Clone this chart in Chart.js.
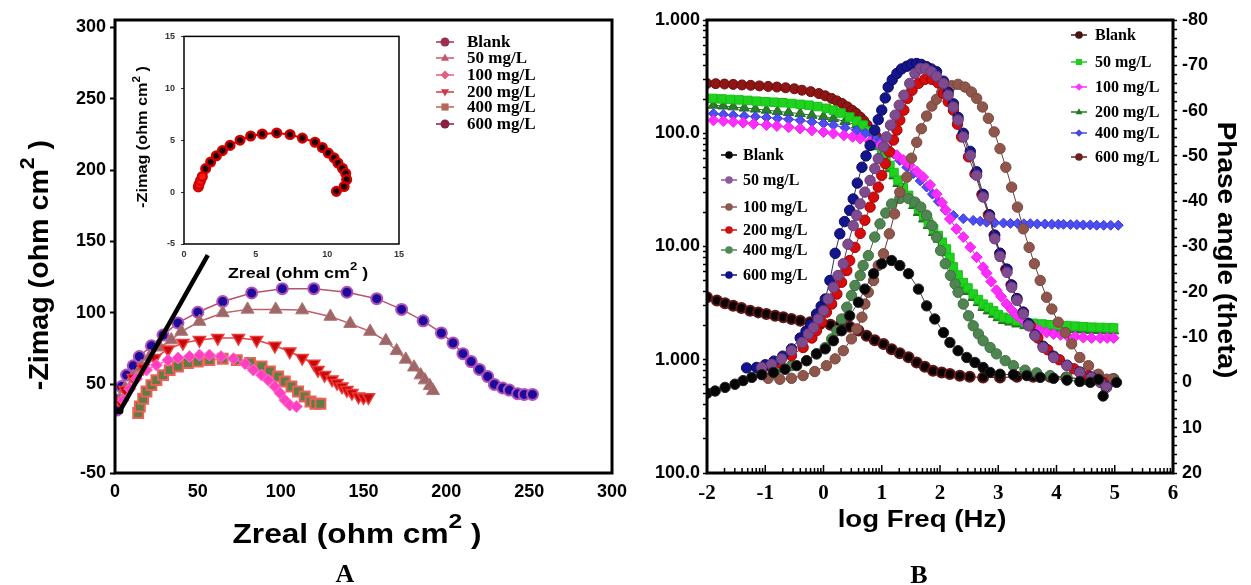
<!DOCTYPE html>
<html>
<head>
<meta charset="utf-8">
<script src="https://cdn.jsdelivr.net/npm/chart.js@4.4.1/dist/chart.umd.min.js"></script>
<style>
html, body { margin: 0; padding: 0; background: #fff; }
#wrap { position: relative; width: 1251px; height: 585px; overflow: hidden; }
canvas { position: absolute; }
#cA { left: 0; top: 0; }
#cIn { left: 120px; top: 25px; }
#cB { left: 640px; top: 0; }
</style>
</head>
<body>
<div id="wrap">
  <canvas id="cA" width="640" height="585"></canvas>
  <canvas id="cIn" width="290" height="265"></canvas>
  <canvas id="cB" width="611" height="585"></canvas>
</div>
<script>
const SANS = 'Arial, "Liberation Sans", sans-serif';
const SERIF = '"Times New Roman", "Liberation Serif", serif';

// ---- panel A : Nyquist (Zreal, -Zimag) ----
const nyqXTicks = [0, 50, 100, 150, 200, 250, 300];
const nyqYTickVals = [-12, 50, 100, 150, 200, 250, 300];
const nyqYTickLabels = ['-50', '50', '100', '150', '200', '250', '300'];
const concLabels = ['Blank', '50 mg/L', '100 mg/L', '200 mg/L', '400 mg/L', '600 mg/L'];

const nyq600 = [[1,32],[2,39],[4,48.5],[7,56.5],[11,63],[14.7,69.5],[22,77],[29,84.5],[38,93],[50,100.5],[65,108],[82.5,114],[101,117],[120,117],[140,114.5],[158,110],[173,102.5],[186,94.5],[197,86],[204,79],[210,71.5],[215,66],[220,60.5],[225,55.5],[229,50],[234,47.5],[238,46],[243,43.5],[247,43],[252,43]];
const nyq50 = [[3,39],[6,47],[11,55.5],[16,62.5],[21,69.5],[27,76],[34,81],[40,87],[51,94],[65,100],[80,102.5],[97,102.5],[113,102],[130,97.5],[142,92.5],[154,87],[163.5,80.5],[170,73.5],[175.5,67.5],[180.5,62],[184.5,56.5],[187,53],[190,49],[192,45.5]];
const nyq200 = [[3,38],[6,46],[11,54.5],[17,61.5],[24,68.5],[32,74.5],[41,79],[51,81],[62,82.5],[74.5,82.5],[85.5,81],[96.5,77],[105.5,73],[113,68.5],[120,64.5],[122.5,60],[126.5,56.5],[131,53.5],[134,51],[137,48.5],[140,46],[143,44],[147,41.5],[150,41],[153,41]];
const nyq100 = [[5,39],[9,47],[13,54],[19,60],[25,63.5],[32,67],[38,68.5],[45,69.5],[51,70.5],[57,70.5],[64,69.5],[71.5,68],[78.5,64.5],[83.5,60],[88.5,56.5],[92.5,53],[96.5,48.5],[99.5,44],[102.5,39],[105.5,35.5],[109.5,34.5]];
const nyq400 = [[14,30],[15,34.5],[17,40],[19,45],[22,49.5],[25,53],[29,56.5],[33,60],[38,62.5],[44,65],[50,66],[57,67],[65,68],[73.5,67],[81.5,65],[88.5,62.5],[93.5,59],[98.5,55.5],[102.5,52],[106.5,48.5],[110.5,45],[114.5,41.5],[118,38],[121,36.5],[124,36.5]];
const fitLine = [[3,31.5],[56,140.5]];

// inset (Blank)
const insetXTicks = [0, 5, 10, 15];
const insetYTicks = [-5, 0, 5, 10, 15];
const nyqBlank = [[1.0,0.5],[1.05,0.75],[1.15,1.1],[1.28,1.5],[1.51,2.26],[1.86,2.9],[2.26,3.5],[2.68,4.0],[3.21,4.5],[3.91,5.0],[4.65,5.4],[5.46,5.6],[6.47,5.7],[7.40,5.55],[8.26,5.2],[9.14,4.8],[9.65,4.3],[10.07,3.76],[10.47,3.3],[10.74,2.8],[11.05,2.3],[11.28,1.8],[11.35,1.2],[11.17,0.54],[10.63,0.07]];

// ---- panel B : Bode (log f, |Z| and phase) ----
const freqTicks = [-2, -1, 0, 1, 2, 3, 4, 5, 6];
const magTickVals = [0.1, 1, 10, 100, 1000];
const magTickLabels = ['100.0', '1.000', '10.00', '100.0', '1.000'];
const phaseTickVals = [-80, -70, -60, -50, -40, -30, -20, -10, 0, 10, 20];

const phaseBlank = [[-2.0,2.4],[-1.86,1.9],[-1.69,1.1],[-1.52,0.4],[-1.38,-0.4],[-1.23,-1.1],[-1.06,-1.7],[-0.86,-2.2],[-0.66,-2.9],[-0.46,-3.7],[-0.29,-4.8],[-0.12,-6.3],[0.03,-7.4],[0.17,-9.2],[0.31,-11.4],[0.45,-14.7],[0.60,-17.7],[0.71,-20.6],[0.86,-24.0],[1.0,-26.2],[1.17,-26.9],[1.31,-25.8],[1.46,-24.0],[1.63,-20.6],[1.77,-16.9],[1.91,-14.0],[2.06,-11.0],[2.17,-8.8],[2.31,-7.0],[2.46,-5.5],[2.60,-4.4],[2.74,-3.3],[2.86,-2.2],[3.03,-1.8],[3.26,-1.7],[3.49,-1.5],[3.72,-1.1],[3.95,-0.9],[4.18,-0.5],[4.40,-0.2],[4.58,0],[4.72,-0.7],[4.80,3.0],[5.03,0]];
const phase50 = [[-1.06,-3.3],[-0.89,-4.0],[-0.72,-5.2],[-0.55,-7.0],[-0.37,-8.8],[-0.26,-10.7],[-0.17,-12.1],[-0.09,-14.0],[0.0,-15.8],[0.08,-18.4],[0.17,-21.0],[0.25,-23.6],[0.34,-26.2],[0.42,-30.5],[0.51,-34.6],[0.57,-36.9],[0.63,-39.4],[0.71,-42.0],[0.80,-44.6],[0.88,-47.2],[0.94,-49.4],[1.03,-52.0],[1.08,-54.2],[1.15,-56.8],[1.23,-59.0],[1.30,-61.2],[1.38,-63.4],[1.48,-66.0],[1.57,-68.2],[1.66,-69.3],[1.75,-69.3],[1.85,-68.6],[1.94,-67.6],[2.06,-66.0],[2.14,-63.4],[2.23,-60.8],[2.31,-57.9],[2.40,-54.2],[2.52,-50.1],[2.63,-45.7],[2.74,-40.9],[2.85,-36.5],[2.94,-31.7],[3.03,-27.8],[3.15,-24.3],[3.23,-21.0],[3.32,-18.1],[3.43,-15.1],[3.52,-12.5],[3.63,-10.3],[3.77,-7.7],[3.95,-5.5],[4.18,-3.7],[4.40,-2.2],[4.60,-1.1],[4.75,0.0],[4.86,1.1]];
const phase100 = [[-0.95,-0.9],[-0.75,-0.7],[-0.55,-0.9],[-0.35,-1.5],[-0.15,-2.4],[0.05,-3.7],[0.20,-5.2],[0.34,-7.0],[0.48,-9.6],[0.57,-11.8],[0.66,-14.4],[0.71,-17.3],[0.77,-19.9],[0.86,-22.5],[0.94,-25.8],[1.03,-28.4],[1.13,-32.8],[1.22,-37.2],[1.31,-42.0],[1.43,-45.3],[1.51,-49.5],[1.60,-53.0],[1.68,-56.0],[1.77,-58.8],[1.86,-61.0],[1.94,-62.5],[2.03,-64.0],[2.12,-65.0],[2.20,-65.5],[2.31,-65.8],[2.43,-65.2],[2.54,-64.1],[2.63,-62.7],[2.73,-60.8],[2.83,-58.3],[2.93,-55.3],[3.03,-51.6],[3.13,-47.5],[3.23,-43.1],[3.33,-38.7],[3.43,-33.9],[3.53,-29.8],[3.62,-26.2],[3.72,-22.5],[3.83,-18.8],[3.92,-16.2],[4.03,-13.3],[4.15,-11.0],[4.26,-8.5],[4.40,-5.5],[4.55,-3.7],[4.72,-1.8],[4.86,-0.7],[4.95,-0.7]];
const phase200 = [[-0.97,-3.7],[-0.75,-4.4],[-0.55,-5.9],[-0.35,-7.7],[-0.20,-9.8],[-0.12,-11.4],[-0.03,-13.3],[0.05,-15.5],[0.14,-17.3],[0.23,-19.5],[0.31,-22.1],[0.40,-24.7],[0.45,-26.9],[0.54,-29.8],[0.63,-32.9],[0.71,-35.8],[0.80,-38.7],[0.86,-40.9],[0.94,-43.1],[1.0,-45.7],[1.06,-48.3],[1.13,-50.9],[1.20,-53.5],[1.26,-55.7],[1.31,-57.9],[1.38,-60.1],[1.44,-62.7],[1.52,-64.5],[1.63,-66.0],[1.74,-66.9],[1.86,-66.9],[1.97,-66.1],[2.06,-63.8],[2.14,-62.0],[2.23,-60.1],[2.30,-57.0],[2.37,-54.2],[2.49,-49.8],[2.60,-46.0],[2.72,-41.5],[2.83,-37.0],[2.93,-32.5],[3.03,-28.5],[3.13,-25.0],[3.22,-21.5],[3.32,-18.5],[3.43,-15.5],[3.55,-12.5],[3.68,-9.8],[3.85,-7.2],[4.05,-5.0],[4.30,-3.0],[4.55,-1.5],[4.80,0.0]];
const phase400 = [[-1.06,-2.6],[-0.80,-2.9],[-0.55,-3.7],[-0.29,-4.8],[-0.12,-6.3],[0.03,-7.7],[0.14,-9.6],[0.23,-11.4],[0.31,-14.0],[0.40,-16.6],[0.48,-19.2],[0.54,-21.4],[0.63,-23.6],[0.68,-25.8],[0.77,-28.0],[0.88,-32.1],[0.97,-35.0],[1.07,-37.4],[1.17,-39.4],[1.31,-40.6],[1.46,-40.6],[1.57,-39.8],[1.67,-38.7],[1.77,-36.9],[1.86,-34.6],[1.94,-32.1],[2.01,-29.1],[2.09,-26.2],[2.18,-23.6],[2.26,-21.7],[2.31,-19.9],[2.40,-17.3],[2.49,-14.7],[2.57,-12.5],[2.66,-10.7],[2.74,-9.2],[2.86,-7.7],[2.97,-6.3],[3.12,-4.8],[3.26,-3.7],[3.46,-2.7],[3.66,-2.1],[3.89,-1.5],[4.18,-1.1],[4.46,-0.7],[4.75,-0.5],[4.98,-0.7]];
const phase600 = [[-1.32,-3.2],[-1.15,-3.3],[-1.0,-3.9],[-0.85,-4.7],[-0.7,-5.8],[-0.55,-7.4],[-0.4,-9.8],[-0.3,-11.3],[-0.22,-12.8],[-0.12,-15.1],[-0.04,-16.8],[0.03,-18.4],[0.11,-22.5],[0.2,-28.5],[0.28,-32.8],[0.36,-35.5],[0.45,-38],[0.51,-40.5],[0.58,-44],[0.66,-47.5],[0.73,-50],[0.8,-52.3],[0.88,-55.7],[0.94,-58],[1.0,-60.1],[1.06,-62.8],[1.11,-65.2],[1.18,-66.8],[1.26,-68.2],[1.34,-69.2],[1.43,-69.8],[1.51,-70.3],[1.6,-70.4],[1.68,-70.2],[1.77,-69.7],[1.85,-69.2],[1.94,-68.6],[2.06,-66.5],[2.14,-64],[2.23,-61.5],[2.31,-58.5],[2.4,-55],[2.52,-51],[2.63,-46.5],[2.74,-41.5],[2.85,-37],[2.94,-32.5],[3.03,-28.5],[3.15,-25],[3.23,-21.5],[3.32,-18.5],[3.43,-15.5],[3.52,-13],[3.63,-10.5],[3.77,-8],[3.95,-5.8],[4.18,-3.8],[4.4,-2.3],[4.6,-1.2],[4.75,-0.2],[4.86,1]];

const magBlank = [[-2.0,3.56],[-1.83,3.33],[-1.69,3.15],[-1.55,3.0],[-1.41,2.87],[-1.26,2.71],[-1.12,2.62],[-0.98,2.54],[-0.83,2.45],[-0.69,2.37],[-0.55,2.29],[-0.40,2.21],[-0.23,2.14],[-0.06,2.07],[0.12,2.04],[0.28,2.0],[0.45,1.96],[0.60,1.81],[0.74,1.63],[0.88,1.49],[1.03,1.38],[1.17,1.24],[1.31,1.14],[1.46,1.05],[1.60,0.946],[1.74,0.867],[1.88,0.80],[2.03,0.773],[2.17,0.747],[2.34,0.722],[2.51,0.707],[2.74,0.697],[3.03,0.697],[3.32,0.707],[3.60,0.707],[3.89,0.707],[4.17,0.697],[4.46,0.675],[4.75,0.675],[4.98,0.675]];
const mag50 = [[-1.9,203],[-1.75,201],[-1.6,199],[-1.45,197],[-1.3,195],[-1.15,192],[-1.0,190],[-0.85,188],[-0.7,186],[-0.55,183],[-0.4,180],[-0.25,177],[-0.1,172],[0.05,166],[0.17,160],[0.3,151],[0.45,139],[0.57,128],[0.68,118],[0.77,105],[0.86,93],[0.93,81],[1.0,71],[1.07,61],[1.14,52],[1.21,45],[1.28,38.5],[1.37,33],[1.46,28.3],[1.55,24.5],[1.63,21.5],[1.72,18.8],[1.8,16.4],[1.89,14.3],[1.97,12.5],[2.04,10.9],[2.11,9.5],[2.17,8],[2.23,6.6],[2.31,5.6],[2.4,4.8],[2.48,4.3],[2.57,3.8],[2.66,3.4],[2.74,3.1],[2.83,2.9],[2.92,2.7],[3.0,2.5],[3.09,2.37],[3.2,2.3],[3.32,2.21],[3.46,2.15],[3.6,2.1],[3.75,2.07],[3.89,2.04],[4.03,2.02],[4.17,2.0],[4.32,1.98],[4.46,1.96],[4.6,1.94],[4.75,1.93],[4.87,1.92],[4.98,1.91]];
const mag100 = [[-1.89,130],[-1.72,128],[-1.55,126],[-1.38,124],[-1.2,121],[-0.98,118],[-0.8,116],[-0.6,113],[-0.4,110],[-0.2,106],[0.0,102.5],[0.17,99.4],[0.35,96],[0.5,93],[0.63,89.7],[0.8,84.5],[0.97,78.3],[1.1,71.5],[1.26,63.9],[1.37,58],[1.48,52.1],[1.6,46],[1.71,41],[1.83,35],[1.94,29],[2.03,24.5],[2.1,21],[2.17,17.5],[2.28,14.3],[2.4,12.1],[2.52,9.86],[2.63,8.04],[2.74,6.56],[2.8,5.8],[2.88,4.9],[2.97,4.1],[3.05,3.6],[3.14,3.11],[3.23,2.75],[3.32,2.45],[3.42,2.25],[3.52,2.07],[3.62,1.93],[3.72,1.81],[3.83,1.74],[3.95,1.69],[4.07,1.66],[4.18,1.63],[4.32,1.6],[4.46,1.57],[4.6,1.56],[4.75,1.56],[4.87,1.56],[4.98,1.56]];
const mag200 = [[-1.89,177],[-1.72,174],[-1.55,171],[-1.36,167],[-1.17,163.5],[-0.98,160],[-0.79,156],[-0.6,152.5],[-0.4,149],[-0.2,144],[0.0,140],[0.17,135],[0.37,127],[0.57,118],[0.72,104],[0.86,87],[0.93,76],[1.0,66],[1.07,57],[1.14,48.5],[1.21,42],[1.28,36],[1.37,31],[1.46,26.5],[1.55,23],[1.63,20],[1.72,17.5],[1.8,15.3],[1.89,13.3],[1.97,11.6],[2.04,10.1],[2.11,8.8],[2.17,7.4],[2.23,6.2],[2.31,5.2],[2.4,4.5],[2.48,4.0],[2.57,3.55],[2.66,3.2],[2.74,2.9],[2.83,2.7],[2.92,2.52],[3.0,2.35],[3.09,2.22],[3.2,2.15],[3.32,2.07],[3.46,2.0],[3.6,1.96],[3.75,1.93],[3.89,1.9],[4.03,1.88],[4.17,1.86],[4.32,1.85],[4.46,1.83],[4.6,1.82],[4.75,1.81],[4.87,1.8],[4.98,1.8]];
const mag400 = [[-1.89,149],[-1.72,146.5],[-1.55,144],[-1.36,142],[-1.17,140],[-0.98,138],[-0.79,135.5],[-0.6,133],[-0.4,130],[-0.2,126],[0.0,122],[0.17,118],[0.37,112],[0.57,106],[0.72,100],[0.86,92.7],[0.97,84],[1.08,75.7],[1.2,66],[1.31,57.6],[1.43,50],[1.54,44],[1.66,38],[1.77,33.5],[1.87,29],[1.97,25],[2.09,21],[2.23,18.8],[2.4,17.6],[2.57,17.0],[2.69,16.7],[2.8,16.4],[2.94,16.2],[3.09,16.1],[3.21,16.0],[3.33,16.0],[3.44,15.9],[3.55,15.9],[3.67,15.8],[3.8,15.8],[3.92,15.7],[4.03,15.7],[4.12,15.7],[4.24,15.6],[4.35,15.6],[4.46,15.5],[4.58,15.5],[4.69,15.4],[4.81,15.4],[4.93,15.4],[5.06,15.4]];
const mag600 = [[-2.0,275],[-1.85,274],[-1.7,272],[-1.55,270],[-1.4,267],[-1.25,265],[-1.1,262],[-0.95,259],[-0.8,256],[-0.65,252],[-0.5,247],[-0.37,240],[-0.22,233],[-0.08,224],[0.03,214],[0.14,203],[0.23,193],[0.32,183],[0.41,171],[0.49,160],[0.56,150],[0.63,139],[0.69,129],[0.75,118],[0.82,106],[0.9,95]];

// ---- helpers ----
function pts(arr) { return arr.map(p => ({ x: p[0], y: p[1] })); }

function ds(label, arr, o) {
  return Object.assign({ label: label, data: pts(arr), showLine: true, pointHoverRadius: 0 }, o);
}

function drawMarker(ctx, style, x, y, r, fill) {
  ctx.beginPath();
  if (style === 'circle') ctx.arc(x, y, r, 0, Math.PI * 2);
  else if (style === 'rect') ctx.rect(x - r * 0.8, y - r * 0.8, r * 1.6, r * 1.6);
  else if (style === 'rectRot') { ctx.moveTo(x, y - r); ctx.lineTo(x + r, y); ctx.lineTo(x, y + r); ctx.lineTo(x - r, y); ctx.closePath(); }
  else if (style === 'triangle') { ctx.moveTo(x, y - r); ctx.lineTo(x + r * 0.9, y + r * 0.6); ctx.lineTo(x - r * 0.9, y + r * 0.6); ctx.closePath(); }
  else if (style === 'triangleDown') { ctx.moveTo(x, y + r); ctx.lineTo(x + r * 0.9, y - r * 0.6); ctx.lineTo(x - r * 0.9, y - r * 0.6); ctx.closePath(); }
  ctx.fillStyle = fill;
  ctx.fill();
}

function drawLegend(ctx, items, cfg) {
  ctx.save();
  ctx.font = cfg.font;
  ctx.textBaseline = 'middle';
  ctx.textAlign = 'left';
  items.forEach((it, i) => {
    const y = cfg.ys[i];
    ctx.strokeStyle = it.color;
    ctx.lineWidth = 1.5;
    ctx.beginPath();
    ctx.moveTo(cfg.mx - cfg.half, y);
    ctx.lineTo(cfg.mx + cfg.half, y);
    ctx.stroke();
    drawMarker(ctx, it.style, cfg.mx, y, cfg.r, it.color);
    ctx.fillStyle = '#000';
    ctx.fillText(concLabels[i], cfg.tx, y + 1);
  });
  ctx.restore();
}

// text with a raised part, centred on (x, y) baseline, optionally rotated and stretched
function richText(ctx, x, y, rot, parts, sx) {
  ctx.save();
  ctx.translate(x, y);
  ctx.rotate(rot);
  ctx.scale(sx || 1, 1);
  ctx.textBaseline = 'alphabetic';
  ctx.textAlign = 'left';
  ctx.fillStyle = '#000';
  let w = 0;
  parts.forEach(p => { ctx.font = p.font; w += ctx.measureText(p.text).width; });
  let cx = -w / 2;
  parts.forEach(p => {
    ctx.font = p.font;
    ctx.fillText(p.text, cx, p.dy || 0);
    cx += ctx.measureText(p.text).width;
  });
  ctx.restore();
}

function boxAround(chart, lw) {
  const a = chart.chartArea, ctx = chart.ctx;
  ctx.save();
  ctx.lineWidth = lw;
  ctx.strokeStyle = '#000';
  ctx.strokeRect(a.left, a.top, a.right - a.left, a.bottom - a.top);
  ctx.restore();
}

const boldTick = (size, fam) => ({ family: fam || SANS, weight: 'bold', size: size });

// ---- chart A ----
const legendA = [
  { style: 'circle', color: '#9b2f4f' },
  { style: 'triangle', color: '#c8566b' },
  { style: 'rectRot', color: '#e0607f' },
  { style: 'triangleDown', color: '#cc3a4a' },
  { style: 'rect', color: '#b4685a' },
  { style: 'circle', color: '#8a2040' }
];

const decorA = {
  id: 'decorA',
  afterDraw(chart) {
    const ctx = chart.ctx;
    boxAround(chart, 3);
    drawLegend(ctx, legendA, { mx: 445, half: 9, r: 4.5, tx: 467, ys: [42, 58, 75, 92, 107, 124], font: 'bold 17px ' + SERIF });
    richText(ctx, 48, 265, -Math.PI / 2, [
      { text: '-Zimag (ohm cm', font: 'bold 27px ' + SANS },
      { text: '2', font: 'bold 20px ' + SANS, dy: -14 },
      { text: ' )', font: 'bold 27px ' + SANS }
    ], 1.06);
    richText(ctx, 357, 543, 0, [
      { text: 'Zreal (ohm cm', font: 'bold 27px ' + SANS },
      { text: '2', font: 'bold 21px ' + SANS, dy: -15 },
      { text: ' )', font: 'bold 27px ' + SANS }
    ], 1.17);
    ctx.save();
    ctx.font = 'bold 26px ' + SERIF;
    ctx.textAlign = 'center';
    ctx.fillStyle = '#000';
    ctx.fillText('A', 345, 582);
    ctx.restore();
  }
};

new Chart(document.getElementById('cA'), {
  type: 'scatter',
  data: {
    datasets: [
      ds('fit', fitLine, { borderColor: '#000', borderWidth: 4.5, pointRadius: [3.5, 0], pointBackgroundColor: '#000', pointBorderWidth: 0, order: 1 }),
      ds(concLabels[2], nyq100, { pointStyle: 'rectRot', pointRadius: 6, pointBackgroundColor: '#ff40c0', pointBorderColor: '#ff70d0', pointBorderWidth: 1, borderColor: '#ff5fc8', borderWidth: 1.5, order: 2 }),
      ds(concLabels[4], nyq400, { pointStyle: 'rect', pointRadius: 7, pointBackgroundColor: '#5d7c46', pointBorderColor: '#ee6055', pointBorderWidth: 2, borderColor: '#d86a5a', borderWidth: 1, order: 3 }),
      ds(concLabels[3], nyq200, { pointStyle: 'triangle', pointRotation: 180, pointRadius: 7, pointBackgroundColor: '#c80808', pointBorderColor: '#f03a3a', pointBorderWidth: 1.5, borderColor: '#e04848', borderWidth: 1.5, order: 4 }),
      ds(concLabels[1], nyq50, { pointStyle: 'triangle', pointRadius: 7.5, pointBackgroundColor: '#9a6868', pointBorderColor: '#b87070', pointBorderWidth: 1, borderColor: '#c0606a', borderWidth: 1.5, order: 5 }),
      ds(concLabels[5], nyq600, { pointStyle: 'circle', pointRadius: 5.5, pointBackgroundColor: '#1e0a9a', pointBorderColor: '#b050b8', pointBorderWidth: 2, borderColor: '#b85468', borderWidth: 1.5, order: 6 })
    ]
  },
  options: {
    responsive: false,
    animation: false,
    devicePixelRatio: 1,
    layout: { padding: { left: 0, right: 28, top: 20, bottom: 0 } },
    plugins: { legend: { display: false }, tooltip: { enabled: false } },
    scales: {
      x: {
        type: 'linear', min: 0, max: 300,
        afterBuildTicks: s => { s.ticks = nyqXTicks.map(v => ({ value: v })); },
        ticks: { font: boldTick(18), color: '#000', padding: 8, maxRotation: 0, autoSkip: false },
        grid: { display: false, drawTicks: false },
        border: { display: false },
        afterFit: s => { s.height = 112; }
      },
      y: {
        type: 'linear', min: -12, max: 305,
        afterBuildTicks: s => { s.ticks = nyqYTickVals.map(v => ({ value: v })); },
        ticks: { font: boldTick(18), color: '#000', padding: 4, autoSkip: false, callback: v => nyqYTickLabels[nyqYTickVals.indexOf(v)] },
        grid: { drawOnChartArea: false, tickLength: 5, tickWidth: 2, tickColor: '#000' },
        border: { display: false },
        afterFit: s => { s.width = 115; }
      }
    }
  },
  plugins: [decorA]
});

// ---- inset ----
const decorIn = {
  id: 'decorIn',
  afterDraw(chart) {
    const ctx = chart.ctx;
    boxAround(chart, 1.5);
    richText(ctx, 27, 112, -Math.PI / 2, [
      { text: '-Zimag (ohm cm', font: 'bold 14px ' + SANS },
      { text: '2', font: 'bold 10px ' + SANS, dy: -7 },
      { text: ' )', font: 'bold 14px ' + SANS }
    ], 1.16);
    richText(ctx, 178, 253, 0, [
      { text: 'Zreal (ohm cm', font: 'bold 15px ' + SANS },
      { text: '2', font: 'bold 11px ' + SANS, dy: -8 },
      { text: ' )', font: 'bold 15px ' + SANS }
    ], 1.19);
  }
};

new Chart(document.getElementById('cIn'), {
  type: 'scatter',
  data: {
    datasets: [
      ds(concLabels[0], nyqBlank, {
        pointRadius: 4.3,
        pointBackgroundColor: c => (c.dataIndex < 4 ? '#ff1a1a' : '#1a0000'),
        pointBorderColor: '#d40000', pointBorderWidth: 2.5,
        borderColor: '#e00000', borderWidth: 2
      })
    ]
  },
  options: {
    responsive: false,
    animation: false,
    devicePixelRatio: 1,
    layout: { padding: { left: 0, right: 11, top: 6, bottom: 0 } },
    plugins: { legend: { display: false }, tooltip: { enabled: false } },
    scales: {
      x: {
        type: 'linear', min: 0, max: 15,
        afterBuildTicks: s => { s.ticks = insetXTicks.map(v => ({ value: v })); },
        ticks: { font: boldTick(9), color: '#333', padding: 5, maxRotation: 0, autoSkip: false },
        grid: { display: false, drawTicks: false },
        border: { display: false },
        afterFit: s => { s.height = 46; }
      },
      y: {
        type: 'linear', min: -5, max: 15,
        afterBuildTicks: s => { s.ticks = insetYTicks.map(v => ({ value: v })); },
        ticks: { font: boldTick(9), color: '#333', padding: 6, autoSkip: false },
        grid: { drawOnChartArea: false, tickLength: 3, tickColor: '#333' },
        border: { display: false },
        afterFit: s => { s.width = 64; }
      }
    }
  },
  plugins: [decorIn]
});

// ---- chart B ----
const legendPhase = [
  { style: 'circle', color: '#000000' },
  { style: 'circle', color: '#8b5a9b' },
  { style: 'circle', color: '#8b5a52' },
  { style: 'circle', color: '#cc1111' },
  { style: 'circle', color: '#4f8a55' },
  { style: 'circle', color: '#11118a' }
];
const legendMag = [
  { style: 'circle', color: '#4a1010' },
  { style: 'rect', color: '#22cc22' },
  { style: 'rectRot', color: '#ff33ff' },
  { style: 'triangle', color: '#1f7a1f' },
  { style: 'rectRot', color: '#4848e0' },
  { style: 'circle', color: '#6b1f1f' }
];

const decorB = {
  id: 'decorB',
  afterDraw(chart) {
    const ctx = chart.ctx;
    const a = chart.chartArea;
    const xs = chart.scales.x;
    boxAround(chart, 3);
    // log-decade tick marks on the frequency axis
    ctx.save();
    ctx.strokeStyle = '#000';
    ctx.lineWidth = 1.5;
    for (let n = freqTicks[0]; n < freqTicks[freqTicks.length - 1]; n++) {
      for (let k = 1; k < 10; k++) {
        const px = xs.getPixelForValue(n + Math.log10(k));
        const len = k === 1 ? 8 : 5;
        ctx.beginPath();
        ctx.moveTo(px, a.bottom);
        ctx.lineTo(px, a.bottom - len);
        ctx.stroke();
      }
    }
    ctx.restore();
    drawLegend(ctx, legendPhase, { mx: 89, half: 8, r: 3.8, tx: 103, ys: [155, 180, 207, 230, 250, 275], font: 'bold 16px ' + SERIF });
    drawLegend(ctx, legendMag, { mx: 439, half: 8, r: 3.8, tx: 455, ys: [35, 62, 87, 112, 133, 157], font: 'bold 16px ' + SERIF });
    richText(ctx, 282, 527, 0, [{ text: 'log Freq (Hz)', font: 'bold 24px ' + SANS }], 1.15);
    richText(ctx, 578, 250, Math.PI / 2, [{ text: 'Phase angle (theta)', font: 'bold 25px ' + SANS }], 1.12);
    ctx.save();
    ctx.font = 'bold 26px ' + SERIF;
    ctx.textAlign = 'center';
    ctx.fillStyle = '#000';
    ctx.fillText('B', 279, 583);
    ctx.restore();
  }
};

function phaseSet(label, arr, fill, edge, line, order) {
  return ds(label, arr, { yAxisID: 'y2', pointStyle: 'circle', pointRadius: 5.2, pointBackgroundColor: fill, pointBorderColor: edge, pointBorderWidth: 1, borderColor: line, borderWidth: 1, order: order });
}
function magSet(label, arr, style, r, fill, edge, order, extra) {
  return ds(label, arr, Object.assign({ yAxisID: 'y', pointStyle: style, pointRadius: r, pointBackgroundColor: fill, pointBorderColor: edge, pointBorderWidth: 1, borderColor: edge, borderWidth: 1, order: order }, extra || {}));
}

new Chart(document.getElementById('cB'), {
  type: 'scatter',
  data: {
    datasets: [
      phaseSet(concLabels[0], phaseBlank, '#050505', '#222222', '#444444', 1),
      phaseSet(concLabels[1], phase50, '#7f4a8e', '#6a3a7a', '#5a3a66', 2),
      phaseSet(concLabels[5], phase600, '#14148c', '#0a0a60', '#303060', 3),
      phaseSet(concLabels[3], phase200, '#d40c0c', '#aa0000', '#773333', 4),
      phaseSet(concLabels[2], phase100, '#8f564c', '#7a4840', '#6b3b33', 5),
      phaseSet(concLabels[4], phase400, '#4f8550', '#3f7040', '#3f6040', 6),
      magSet(concLabels[0], magBlank, 'circle', 5, '#0b0000', '#5e1818', 7, { pointBorderWidth: 2 }),
      magSet(concLabels[2], mag100, 'rectRot', 5.5, '#ff2cff', '#ee20ee', 8),
      magSet(concLabels[4], mag400, 'rectRot', 5, '#4d4df2', '#3a3ad8', 9),
      magSet(concLabels[1], mag50, 'rect', 6, '#1ed21e', '#16c016', 10, { borderWidth: 2 }),
      magSet(concLabels[3], mag200, 'triangle', 6, '#2a7e2a', '#1f6a1f', 11),
      magSet(concLabels[5], mag600, 'circle', 5, '#8f1515', '#6a0f0f', 12)
    ]
  },
  options: {
    responsive: false,
    animation: false,
    devicePixelRatio: 1,
    layout: { padding: { left: 0, right: 0, top: 20, bottom: 0 } },
    plugins: { legend: { display: false }, tooltip: { enabled: false } },
    scales: {
      x: {
        type: 'linear', min: -2, max: 6,
        afterBuildTicks: s => { s.ticks = freqTicks.map(v => ({ value: v })); },
        ticks: { font: boldTick(21, SERIF), color: '#000', padding: 8, maxRotation: 0, autoSkip: false },
        grid: { display: false, drawTicks: false },
        border: { display: false },
        afterFit: s => { s.height = 112; }
      },
      y: {
        type: 'logarithmic', position: 'left', min: 0.1, max: 1000,
        afterBuildTicks: s => {
          const t = [];
          for (let d = -1; d < 3; d++) for (let k = 1; k < 10; k++) t.push({ value: k * Math.pow(10, d) });
          t.push({ value: 1000 });
          s.ticks = t;
        },
        ticks: {
          font: boldTick(18), color: '#000', padding: 3, autoSkip: false,
          callback: v => {
            const i = magTickVals.findIndex(t => Math.abs(t - v) / t < 1e-6);
            return i >= 0 ? magTickLabels[i] : '';
          }
        },
        grid: { drawOnChartArea: false, tickLength: 4, tickWidth: 1.5, tickColor: '#000' },
        border: { display: false },
        afterFit: s => { s.width = 67; }
      },
      y2: {
        type: 'linear', position: 'right', min: -80, max: 20, reverse: true,
        afterBuildTicks: s => {
          const t = [];
          for (let v = phaseTickVals[0]; v <= phaseTickVals[phaseTickVals.length - 1]; v += 2) t.push({ value: v });
          s.ticks = t;
        },
        ticks: { font: boldTick(18), color: '#000', padding: 5, autoSkip: false, callback: v => (phaseTickVals.includes(v) ? String(v) : '') },
        grid: { drawOnChartArea: false, tickLength: 4, tickWidth: 1.5, tickColor: '#000' },
        border: { display: false },
        afterFit: s => { s.width = 78; }
      }
    }
  },
  plugins: [decorB]
});
</script>
</body>
</html>
